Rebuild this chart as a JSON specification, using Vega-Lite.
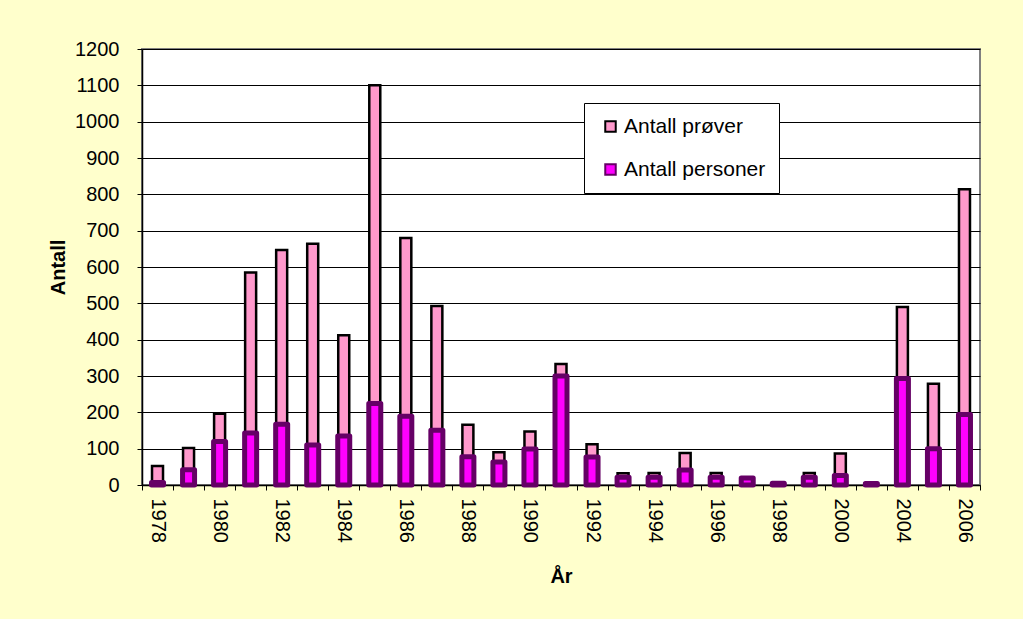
{
  "$schema": "https://vega.github.io/schema/vega-lite/v6.json",
  "autosize": {"type": "none"},
  "width": 838,
  "height": 436,
  "padding": {"left": 142, "top": 49, "right": 43, "bottom": 134},
  "background": "#FFFFCC",
  "config": {
    "font": "Liberation Sans",
    "view": {"stroke": "#808080", "strokeWidth": 2, "fill": "white"},
    "axisY": {
      "title": "Antall",
      "titleFontSize": 20,
      "titleFontWeight": "bold",
      "titleColor": "black",
      "titlePadding": 6,
      "labelFontSize": 20,
      "labelColor": "black",
      "labelPadding": 18,
      "labelOverlap": false,
      "tickSize": 5,
      "tickColor": "black",
      "domainColor": "black",
      "domainWidth": 1.5,
      "grid": true,
      "gridColor": "black",
      "gridWidth": 1
    },
    "legend": {
      "orient": "none",
      "legendX": 442,
      "legendY": 54,
      "fillColor": "white",
      "strokeColor": "black",
      "padding": 13,
      "symbolType": "square",
      "symbolSize": 110,
      "symbolStrokeWidth": 2,
      "symbolOffset": 3,
      "labelFontSize": 21,
      "labelColor": "black",
      "labelOffset": 3,
      "labelLimit": 300,
      "rowPadding": 21
    }
  },
  "data": {
    "values": [
      {"year": "1978", "prover": 52, "personer": 7},
      {"year": "1979", "prover": 102, "personer": 42},
      {"year": "1980", "prover": 196, "personer": 120},
      {"year": "1981", "prover": 585, "personer": 143},
      {"year": "1982", "prover": 647, "personer": 167},
      {"year": "1983", "prover": 664, "personer": 110},
      {"year": "1984", "prover": 412, "personer": 135},
      {"year": "1985", "prover": 1100, "personer": 224},
      {"year": "1986", "prover": 680, "personer": 189},
      {"year": "1987", "prover": 493, "personer": 151},
      {"year": "1988", "prover": 166, "personer": 78},
      {"year": "1989", "prover": 90, "personer": 63},
      {"year": "1990", "prover": 147, "personer": 99},
      {"year": "1991", "prover": 333, "personer": 300},
      {"year": "1992", "prover": 112, "personer": 77},
      {"year": "1993", "prover": 32, "personer": 21},
      {"year": "1994", "prover": 33, "personer": 21},
      {"year": "1995", "prover": 88, "personer": 41},
      {"year": "1996", "prover": 33, "personer": 21},
      {"year": "1997", "prover": 20, "personer": 19},
      {"year": "1998", "prover": 5, "personer": 5},
      {"year": "1999", "prover": 33, "personer": 21},
      {"year": "2000", "prover": 87, "personer": 26},
      {"year": "2002", "prover": 4, "personer": 4},
      {"year": "2004", "prover": 490, "personer": 293},
      {"year": "2005", "prover": 279, "personer": 100},
      {"year": "2006", "prover": 814, "personer": 194}
    ]
  },
  "encoding": {
    "x": {
      "field": "year",
      "type": "ordinal",
      "sort": null,
      "scale": {"paddingInner": 0, "paddingOuter": 0},
      "axis": {
        "title": "År",
        "titleFontSize": 20,
        "titleFontWeight": "bold",
        "titleColor": "black",
        "titlePadding": 24,
        "labelAngle": 90,
        "labelFontSize": 20,
        "labelColor": "black",
        "labelPadding": 8,
        "labelOverlap": false,
        "labelExpr": "indexof(['1978','1980','1982','1984','1986','1988','1990','1992','1994','1996','1998','2000','2004','2006'], datum.label) >= 0 ? datum.label : ''",
        "tickBand": "extent",
        "tickSize": 5,
        "tickColor": "black",
        "domainColor": "black",
        "domainWidth": 1.5,
        "grid": false
      }
    }
  },
  "layer": [
    {
      "mark": {"type": "bar", "size": 11, "strokeWidth": 2.5},
      "encoding": {
        "y": {
          "field": "prover",
          "type": "quantitative",
          "scale": {"domain": [0, 1200], "nice": false},
          "axis": {"values": [0, 100, 200, 300, 400, 500, 600, 700, 800, 900, 1000, 1100, 1200], "format": "d", "title": "Antall"}
        },
        "fill": {
          "datum": "Antall prøver",
          "scale": {"domain": ["Antall prøver", "Antall personer"], "range": ["#FF99CC", "#FF00FF"]},
          "legend": {"title": null}
        },
        "stroke": {
          "datum": "Antall prøver",
          "scale": {"domain": ["Antall prøver", "Antall personer"], "range": ["#000000", "#660066"]},
          "legend": {"title": null}
        }
      }
    },
    {
      "mark": {"type": "bar", "size": 12, "strokeWidth": 5, "strokeJoin": "round"},
      "encoding": {
        "y": {
          "field": "personer",
          "type": "quantitative",
          "axis": {"values": [0, 100, 200, 300, 400, 500, 600, 700, 800, 900, 1000, 1100, 1200], "format": "d", "title": "Antall"}
        },
        "fill": {"datum": "Antall personer"},
        "stroke": {"datum": "Antall personer"}
      }
    }
  ]
}
